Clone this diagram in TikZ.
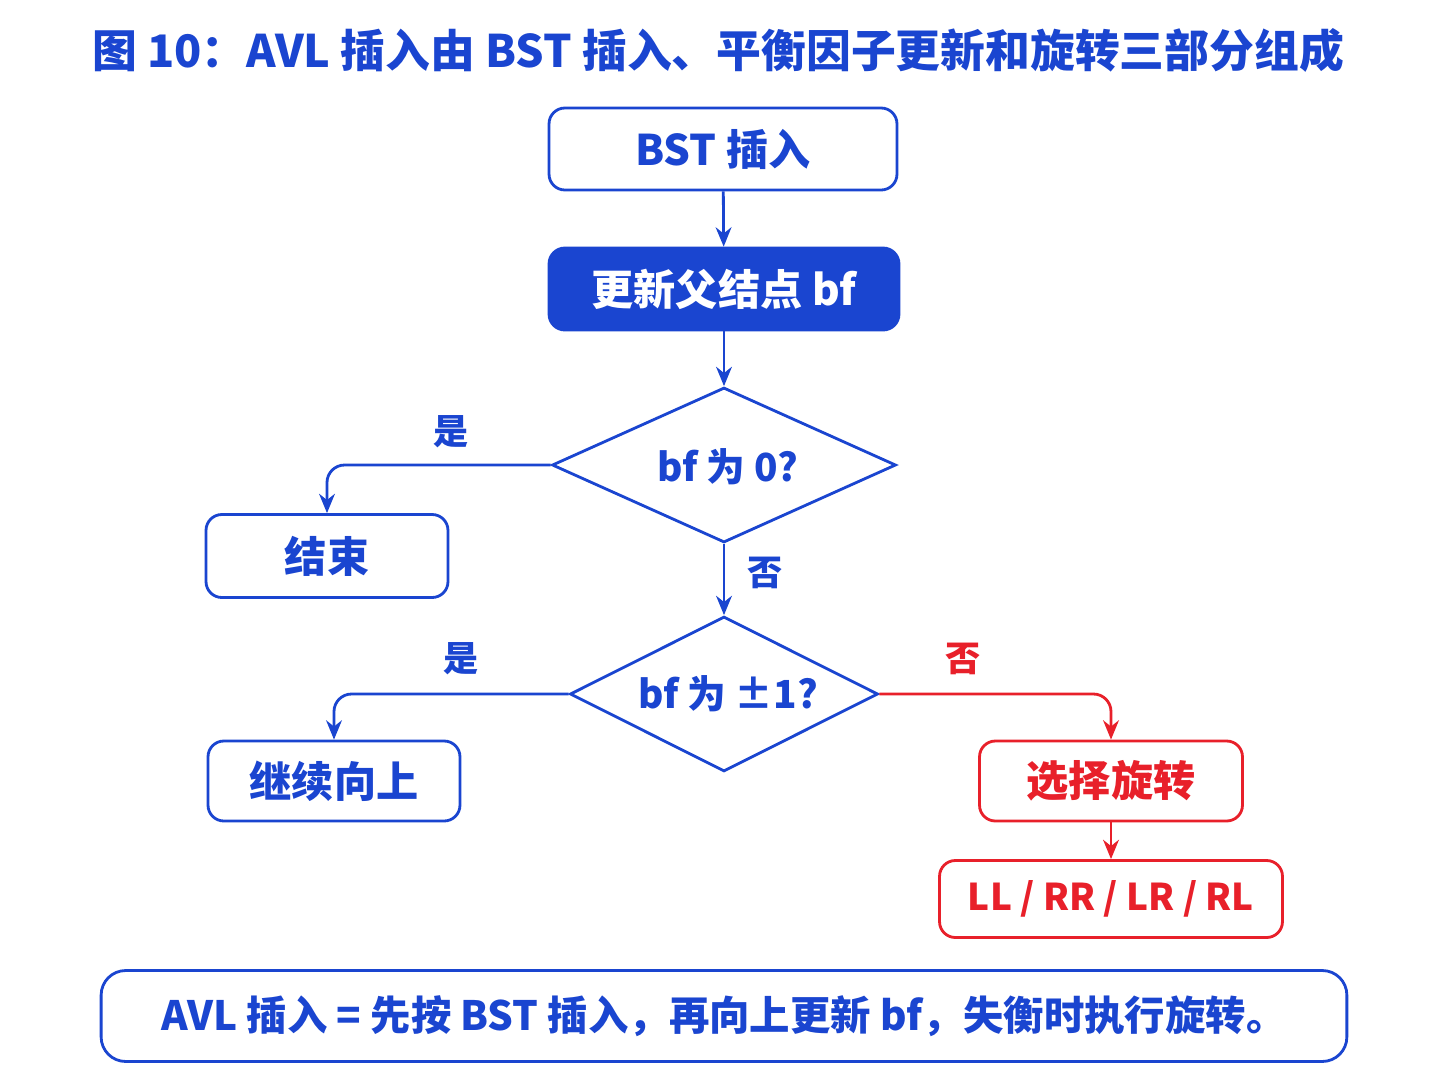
\documentclass[tikz,border=0pt]{standalone}
\usepackage{fontspec}
\setmainfont{Noto Sans CJK SC}
\usetikzlibrary{shapes.geometric,arrows.meta}
\definecolor{bl}{HTML}{1A45D0}
\definecolor{rd}{HTML}{E8202A}
\begin{document}
\begin{tikzpicture}[x=0.02cm,y=-0.02cm,
 box/.style={draw=bl,line width=1.6pt,rounded corners=9pt,text=bl,font=\fontsize{24}{28}\selectfont\bfseries,inner sep=0pt},
 dia/.style={draw=bl,line width=1.6pt,diamond,inner sep=0pt},
 dtxt/.style={text=bl,font=\fontsize{22}{26}\selectfont\bfseries},
 arr/.style={draw=bl,line width=1.6pt,-{Stealth[length=11pt,width=9pt]},rounded corners=10pt},
 lab/.style={font=\fontsize{20}{24}\selectfont\bfseries,text=bl}]
\useasboundingbox (0,0) rectangle (1448,1086);
\node[text=bl,font=\fontsize{25.5}{30}\selectfont\bfseries] (t) at (718,50) {图 10：AVL 插入由 BST 插入、平衡因子更新和旋转三部分组成};
\node[box,minimum width=6.96cm,minimum height=1.64cm] (a) at (723,149) {BST 插入};
\node[box,fill=bl,text=white,minimum width=7cm,minimum height=1.64cm] (b) at (724,289) {更新父结点 bf};
\node[dia,minimum width=6.88cm,minimum height=3.1cm,aspect=2.2] (d1) at (724,465) {};
\node[dtxt] (t1) at (728,467) {bf 为 0?};
\node[box,minimum width=4.84cm,minimum height=1.66cm] (e) at (327,556) {结束};
\node[dia,minimum width=6.16cm,minimum height=3.1cm,aspect=2] (d2) at (724,694) {};
\node[dtxt] (t2) at (728,694) {bf 为 ±1?};
\node[box,minimum width=5.04cm,minimum height=1.6cm] (c) at (334,781) {继续向上};
\node[box,draw=rd,text=rd,minimum width=5.26cm,minimum height=1.6cm] (s) at (1111,781) {选择旋转};
\node[box,draw=rd,text=rd,minimum width=6.86cm,minimum height=1.54cm,font=\fontsize{21}{25}\selectfont\bfseries] (r) at (1111,899) {LL / RR / LR / RL};
\node[box,rounded corners=14pt,minimum width=24.92cm,minimum height=1.82cm,font=\fontsize{23}{27}\selectfont\bfseries] (f) at (724,1016) {AVL 插入 = 先按 BST 插入，再向上更新 bf，失衡时执行旋转。};
\draw[arr] (a) -- (b);
\draw[arr] (b) -- (d1.north);
\draw[arr] (d1.west) -- (d1.west -| e) -- (e.north);
\draw[arr] (d1.south) -- (d2.north);
\draw[arr] (d2.west) -- (d2.west -| c) -- (c.north);
\draw[arr,draw=rd] (d2.east) -- (d2.east -| s) -- (s.north);
\draw[arr,draw=rd] (s) -- (r);
\node[lab] (l1) at (451,432) {是};
\node[lab] (l2) at (765,573) {否};
\node[lab] (l3) at (461,659) {是};
\node[lab,text=rd] (l4) at (963,659) {否};
\end{tikzpicture}
\end{document}
